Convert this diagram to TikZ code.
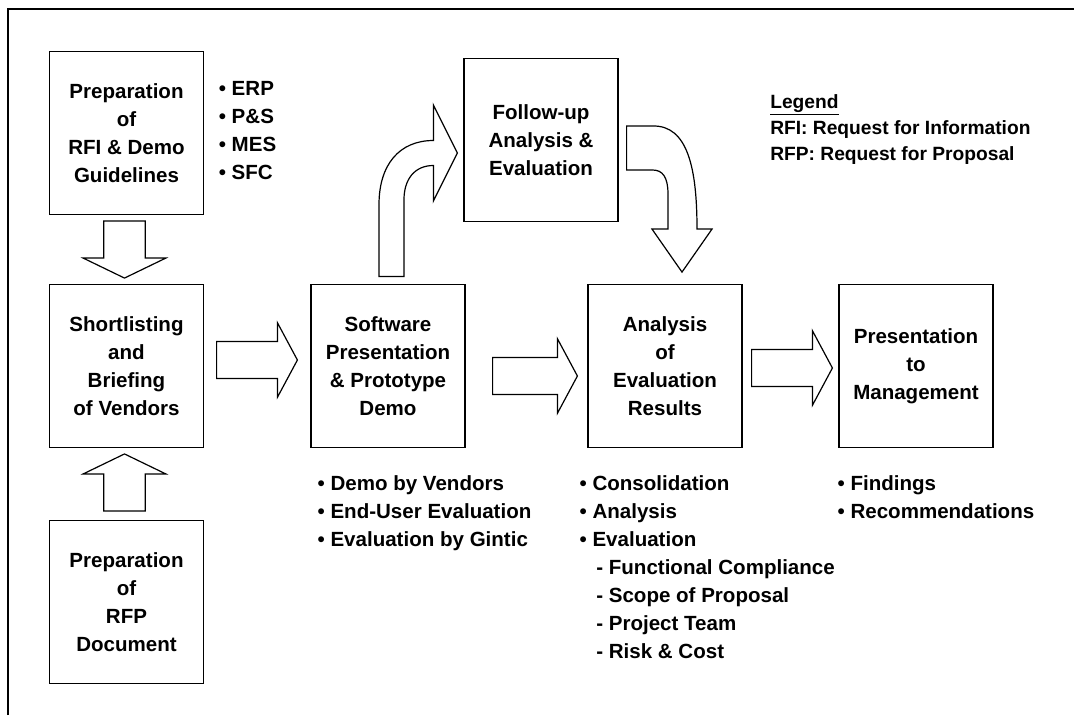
\documentclass[tikz,border=0pt]{standalone}
\usepackage{fontspec}
\setmainfont{Liberation Sans}
\usetikzlibrary{positioning}
\usetikzlibrary{calc}
\newcommand{\labelfont}{\fontsize{15.4}{21}\selectfont\bfseries}
\newcommand{\legendfont}{\fontsize{14.4}{19.5}\selectfont\bfseries}
\tikzset{
    box/.style = {rectangle,draw,line width=0.9pt,minimum width=115.5pt,minimum height=122pt,align=center,inner sep=0pt,font=\labelfont},
    notes/.style = {align=left,inner sep=0pt,anchor=north west,font=\labelfont},
    fat/.style = {draw,line width=0.9pt,fill=white,line join=miter}}
% #1 start, #2 tip, #3 shaft half width, #4 head half width, #5 head length
\newcommand{\fatarrow}[5]{%
  \coordinate (fa-h) at ($(#2)!#5!(#1)$);
  \draw[fat] ($(#1)!#3!90:(#2)$) -- ($(fa-h)!#3!90:(#2)$) -- ($(fa-h)!#4!90:(#2)$) -- (#2)
    -- ($(fa-h)!#4!-90:(#2)$) -- ($(fa-h)!#3!-90:(#2)$) -- ($(#1)!#3!-90:(#2)$) -- cycle;}

\begin{document}
\begin{tikzpicture}[x=0.75pt,y=-0.75pt]
        \useasboundingbox (0,0) rectangle (1074,715);
        \draw[line width=0.9pt] (8,715) -- (8,9) -- (1074,9);
        \path (126.5,133) node[box] (rfi) {Preparation\\of\\RFI \& Demo\\Guidelines}
        ++ (0,233) node[box] (shortlist) {Shortlisting\\and\\Briefing\\of Vendors}
        ++ (0,236) node[box] (rfp) {Preparation\\of\\RFP\\Document};
        \path (388,366) node[box] (software) {Software\\Presentation\\\& Prototype\\Demo}
        ++ (277,0) node[box] (analysis) {Analysis\\of\\Evaluation\\Results}
        ++ (251,0) node[box] (present) {Presentation\\to\\Management};
        \node[box] (followup) at (541,140) {Follow-up\\Analysis \&\\Evaluation};
        % notes beside the boxes
        \node[notes] (rfinotes) at ($(rfi.north east)+(14.5,30)$) {\textbullet\ ERP\\\textbullet\ P\&S\\\textbullet\ MES\\\textbullet\ SFC};
        \node[notes,font=\legendfont] (legend) at (770,94) {\underline{Legend}\\RFI: Request for Information\\RFP: Request for Proposal};
        \node[notes] (softnotes) at ($(software.south west)+(7,27)$) {\textbullet\ Demo by Vendors\\\textbullet\ End-User Evaluation\\\textbullet\ Evaluation by Gintic};
        \node[notes] (analysisnotes) at ($(analysis.south west)+(-8,27)$) {\textbullet\ Consolidation\\\textbullet\ Analysis\\\textbullet\ Evaluation\\
            \hspace*{12.5pt}- Functional Compliance\\\hspace*{12.5pt}- Scope of Proposal\\\hspace*{12.5pt}- Project Team\\\hspace*{12.5pt}- Risk \& Cost};
        \node[notes] (presentnotes) at ($(present.south west)+(-1,27)$) {\textbullet\ Findings\\\textbullet\ Recommendations};
        % straight block arrows
        \coordinate (d0) at ($(rfi.south)+(-2,6)$);
        \coordinate (d1) at ($(shortlist.north)+(-2,-6)$);
        \coordinate (u0) at ($(rfp.north)+(-2,-9)$);
        \coordinate (u1) at ($(shortlist.south)+(-2,6)$);
        \coordinate (r0) at ($(shortlist.east)+(12.5,-6)$);
        \coordinate (r1) at ($(software.west)+(-13,-6)$);
        \coordinate (r2) at ($(software.east)+(27,10)$);
        \coordinate (r3) at ($(analysis.west)+(-10,10)$);
        \coordinate (r4) at ($(analysis.east)+(9,2)$);
        \coordinate (r5) at ($(present.west)+(-6,2)$);
        \fatarrow{d0}{d1}{15.5pt}{31pt}{15pt}
        \fatarrow{u0}{u1}{15.5pt}{31pt}{15pt}
        \fatarrow{r0}{r1}{13.9pt}{28pt}{15pt}
        \fatarrow{r2}{r3}{13.9pt}{28pt}{15pt}
        \fatarrow{r4}{r5}{13.9pt}{28pt}{15pt}
        % bent arrows to and from the follow-up box
        \coordinate (c0) at ($(software.north)+(3.5,-7.5)$);
        \coordinate (c1) at ($(followup.west)+(-6,13)$);
        \draw[fat] ($(c0)+(-12.5,0)$) -- ($(c0)+(-12.5,-72)$) .. controls ($(c0)+(-12.5,-112)$) and ($(c1)+(-58,-12.5)$) .. ($(c1)+(-24,-12.5)$)
            -- ($(c1)+(-24,-48)$) -- (c1) -- ($(c1)+(-24,48)$) -- ($(c1)+(-24,12.5)$)
            .. controls ($(c1)+(-43,12.5)$) and ($(c0)+(12.5,-97)$) .. ($(c0)+(12.5,-77)$) -- ($(c0)+(12.5,0)$) -- cycle;
        \coordinate (e0) at ($(followup.east)+(8,8)$);
        \coordinate (e1) at ($(analysis.north)+(17,-12)$);
        \draw[fat] ($(e0)+(0,-22)$) -- ($(e0)+(26,-22)$) .. controls ($(e1)+(6,-147)$) and ($(e1)+(15,-103)$) .. ($(e1)+(15,-43)$)
            -- ($(e1)+(30,-43)$) -- (e1) -- ($(e1)+(-30,-43)$) -- ($(e1)+(-14,-43)$) -- ($(e1)+(-14,-78)$)
            .. controls ($(e1)+(-14,-95)$) and ($(e0)+(36,22)$) .. ($(e0)+(26,22)$) -- ($(e0)+(0,22)$) -- cycle;
\end{tikzpicture}
\end{document}
